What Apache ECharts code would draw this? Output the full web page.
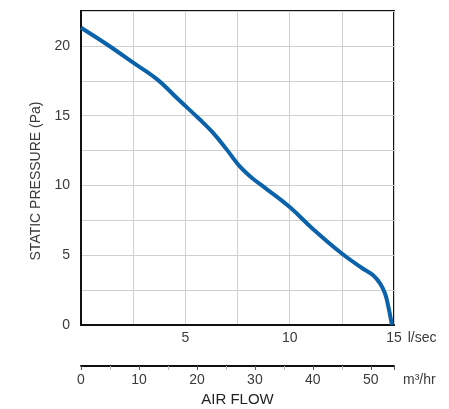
<!DOCTYPE html>
<html>
<head>
<meta charset="utf-8">
<script src="https://cdn.jsdelivr.net/npm/echarts@6/dist/echarts.min.js"></script>
<style>
html,body{margin:0;padding:0;background:#fff;}
#chart{width:449px;height:409px;}
</style>
</head>
<body>
<div id="chart"></div>
<script>
// Air flow (l/sec) vs static pressure (Pa)
var airFlowLs = [0, 1.25, 2.5, 3.65, 4.71, 5.67, 6.31, 6.96, 7.53, 7.85, 8.24, 8.88, 10, 11.1, 12.5, 13.5, 14, 14.33, 14.57, 14.73, 14.9];
var pressurePa = [21.3, 20.1, 18.8, 17.6, 16.1, 14.76, 13.8, 12.62, 11.5, 11.0, 10.48, 9.76, 8.45, 6.9, 5.12, 4.05, 3.57, 2.98, 2.26, 1.31, 0];
var yTickLabels = [0, 5, 10, 15, 20];
var xTickLabels = [5, 10, 15];

var font = '"Liberation Sans", Arial, Helvetica, sans-serif';
var textColor = '#3a3a3a';

var chart = echarts.init(document.getElementById('chart'), null, {renderer: 'canvas'});
chart.setOption({
  animation: false,
  backgroundColor: '#fff',
  grid: {
    left: 81, top: 11, width: 313, height: 314,
    outerBoundsMode: 'none', containLabel: false,
    show: true, borderColor: '#111', borderWidth: 2, backgroundColor: 'transparent'
  },
  xAxis: [{
    type: 'value', min: 0, max: 15, interval: 2.5,
    axisLine: {show: true, lineStyle: {color: '#111', width: 2}},
    axisTick: {show: false},
    splitLine: {show: true, lineStyle: {color: '#cfcfcf', width: 1}},
    axisLabel: {
      margin: 6, fontFamily: font, fontSize: 14, color: textColor,
      formatter: function (v) { return xTickLabels.indexOf(v) >= 0 ? String(v) : ''; }
    },
    name: 'l/sec', nameLocation: 'end', nameGap: 10,
    nameTextStyle: {fontFamily: font, fontSize: 14, color: textColor, verticalAlign: 'top', padding: [6, 0, 0, 0]}
  }, {
    type: 'value', min: 0, max: 54, interval: 10, position: 'bottom', offset: 41,
    axisLine: {show: true, onZero: false, lineStyle: {color: '#111', width: 2}},
    axisTick: {show: true, length: 4, inside: false, lineStyle: {color: '#555', width: 1}},
    minorTick: {show: true, splitNumber: 2, length: 4, lineStyle: {color: '#bbb', width: 1}},
    splitLine: {show: false},
    axisLabel: {margin: 7, fontFamily: font, fontSize: 14, color: textColor,
      showMaxLabel: false},
    name: 'AIR FLOW', nameLocation: 'middle', nameGap: 26,
    nameTextStyle: {fontFamily: font, fontSize: 15, color: '#222'}
  }],
  yAxis: {
    type: 'value', min: 0, max: 22.5, interval: 2.5,
    axisLine: {show: true, lineStyle: {color: '#111', width: 2}},
    axisTick: {show: false},
    splitLine: {show: true, lineStyle: {color: '#cfcfcf', width: 1}},
    axisLabel: {
      margin: 11, fontFamily: font, fontSize: 14, color: textColor,
      formatter: function (v) { return yTickLabels.indexOf(v) >= 0 ? String(v) : ''; }
    },
    name: 'STATIC PRESSURE (Pa)', nameLocation: 'middle', nameGap: 31, nameRotate: 90,
    nameTextStyle: {fontFamily: font, fontSize: 14, color: textColor, padding: [0, 26, 0, 0]}
  },
  graphic: [{
    type: 'text', left: 403, top: 373,
    style: {text: 'm³/hr', font: '14px ' + font, fill: textColor}
  }],
  series: [{
    type: 'line',
    xAxisIndex: 0,
    data: airFlowLs.map(function (x, i) { return [x, pressurePa[i]]; }),
    smooth: 0.4,
    showSymbol: false,
    lineStyle: {color: '#0a62aa', width: 4},
    clip: false
  }]
});
</script>
</body>
</html>
